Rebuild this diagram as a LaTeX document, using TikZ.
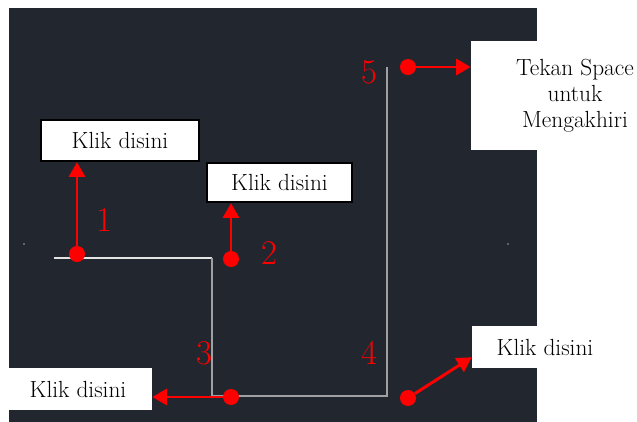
\documentclass[tikz,border=0pt]{standalone}
\usepackage{xcolor}
\usepackage{tikz}
\usetikzlibrary{arrows.meta, positioning, calc}
\definecolor{cadbg}{RGB}{34, 39, 47}
\definecolor{cadline}{RGB}{160, 160, 164}
\definecolor{cadlinelit}{RGB}{228, 228, 228}
\definecolor{pickred}{RGB}{255, 0, 0}
\tikzset{
    clickbox/.style={fill=white, draw=black, line width=1.5pt, inner sep=0pt,
                     font=\fontsize{17.5}{19.5}\selectfont},
    notebox/.style={fill=white, inner sep=0pt, align=center,
                    font=\fontsize{17.5}{19.5}\selectfont},
    pickdot/.style={circle, fill=pickred, inner sep=0pt, minimum size=12pt},
    pickarrow/.style={draw=pickred, line width=2.2pt, -{Triangle[length=11pt,width=12pt]}},
    picknum/.style={text=pickred, inner sep=0pt, font=\fontsize{26}{30}\selectfont},
    polyline/.style={draw=cadline, line width=1.1pt}
}

\begin{document}
\begin{tikzpicture}[x=0.75pt, y=-0.75pt]
            \useasboundingbox (0,0) rectangle (637,422);
            \clip (0,0) rectangle (637,422);
            \fill[white] (0,0) rectangle (637,422);
            \fill[cadbg] (9,8) rectangle (537,422);
            \fill[cadline] (24,244) circle (0.6pt);
            \fill[cadline] (508,244) circle (0.6pt);

            \draw[polyline, draw=cadlinelit] (54,258) -- (212,258);
            \draw[polyline] (212,258) -- (212,396) -- (387,396) -- (387,67);

            \node[clickbox, minimum width=118.5pt, minimum height=31pt] (boxA) at (120,140.5) {Klik disini};
            \node[clickbox, minimum width=109pt, minimum height=29.5pt] (boxB) at (279.5,182.5) {Klik disini};
            \node[notebox, minimum width=156pt, minimum height=81.75pt] (boxC) at (575,95.5)
                {Tekan Space\\untuk\\Mengakhiri};
            \node[notebox, minimum width=111pt, minimum height=31.5pt] (boxD) at (78,389) {Klik disini};
            \node[notebox, minimum width=109.5pt, minimum height=31.5pt] (boxE) at (545,347) {Klik disini};

            \node[pickdot] (dot1) at (77,254) {};
            \node[pickdot] (dot2) at (231,259) {};
            \node[pickdot] (dot3) at (231,397) {};
            \node[pickdot] (dot4) at (408,398) {};
            \node[pickdot] (dot5) at (408,67) {};

            \draw[pickarrow] (dot1) -- (dot1 |- boxA.south);
            \draw[pickarrow] (dot2) -- (dot2 |- boxB.south);
            \draw[pickarrow] (dot3) -- (dot3 -| boxD.east);
            \draw[pickarrow] (dot4) -- ($(boxE.south west)+(0,-11)$);
            \draw[pickarrow] (dot5) -- (dot5 -| boxC.west);

            \node[picknum] (num1) at (104,220) {1};
            \node[picknum] (num2) at (269,253) {2};
            \node[picknum] (num3) at (204,353) {3};
            \node[picknum] (num4) at (369,353) {4};
            \node[picknum] (num5) at (369,72) {5};
        \end{tikzpicture}
\end{document}
